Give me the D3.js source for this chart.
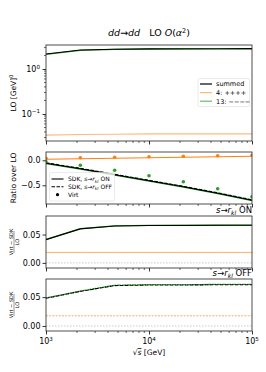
<!DOCTYPE html>
<html>
<head>
<meta charset="utf-8">
<script src="https://cdn.jsdelivr.net/npm/d3@7"></script>
<style>
  body { margin: 0; background: #fff; }
  text { font-family: "DejaVu Sans", sans-serif; fill: #000; }
</style>
</head>
<body>
<script>
// sqrt(s) sampling points [GeV]
var energies = [1000, 2154, 4642, 10000, 21544, 46416, 100000];

// top panel: LO
var loSummed = [2.15, 2.64, 2.76, 2.80, 2.82, 2.83, 2.84];
var loHel4 = [0.034, 0.035, 0.0355, 0.036, 0.036, 0.036, 0.036];
var loHel13 = [2.12, 2.61, 2.72, 2.76, 2.78, 2.79, 2.80];

// ratio over LO
var sdkOnSummed = [-0.06, -0.17, -0.29, -0.41, -0.53, -0.66, -0.80];
var sdkOffSummed = [-0.05, -0.16, -0.28, -0.40, -0.52, -0.65, -0.79];
var sdkOn13 = [-0.065, -0.175, -0.295, -0.415, -0.535, -0.665, -0.805];
var sdkOn4 = [0.02, 0.03, 0.04, 0.05, 0.06, 0.07, 0.08];
var virt13 = [-0.03, -0.10, -0.20, -0.31, -0.43, -0.57, -0.73];
var virt4 = [0.04, 0.05, 0.06, 0.07, 0.08, 0.09, 0.10];

// (Virt - SDK) / LO
var diffOnSummed = [0.041, 0.060, 0.065, 0.066, 0.066, 0.0665, 0.0665];
var diffOn13 = [0.0415, 0.0605, 0.0652, 0.0662, 0.0663, 0.0665, 0.0666];
var diffOn4 = [0.0185, 0.0185, 0.0185, 0.0185, 0.0185, 0.0185, 0.0185];
var diffOffSummed = [0.048, 0.060, 0.070, 0.071, 0.071, 0.0715, 0.0715];
var diffOff13 = [0.0485, 0.0605, 0.0705, 0.0715, 0.0715, 0.072, 0.072];
var diffOff4 = [0.0177, 0.0177, 0.0177, 0.0177, 0.0177, 0.0177, 0.0177];

var xTicks = [1e3, 1e4, 1e5];
var xTickExp = ["3", "4", "5"];

var width = 266, height = 372,
	left = 46, right = 252,
	panels = [
		{top: 45, bottom: 141},
		{top: 152, bottom: 204},
		{top: 216, bottom: 268},
		{top: 279, bottom: 331}
	],
	black = "#000", orange = "#ff7f0e", green = "#2ca02c", tickFont = 8;

var svg = d3.select("body").append("svg")
	.attr("width", width)
	.attr("height", height);

var x = d3.scaleLog().domain([1e3, 1e5]).range([left, right]);

var yScales = [
	d3.scaleLog().domain([0.0251, 3.42]).range([panels[0].bottom, panels[0].top]),
	d3.scaleLinear().domain([-0.874, 0.166]).range([panels[1].bottom, panels[1].top]),
	d3.scaleLinear().domain([-0.009, 0.0827]).range([panels[2].bottom, panels[2].top]),
	d3.scaleLinear().domain([-0.0087, 0.0814]).range([panels[3].bottom, panels[3].top])
];

function translate(a, b) {
	return "translate(" + a + "," + b + ")";
}

function drawLine(i, values, color, width, dash, opacity) {
	var y = yScales[i];
	var line = d3.line()
		.x(function (d, k) { return x(energies[k]); })
		.y(function (d) { return y(d); });
	var p = svg.append("path")
		.datum(values)
		.attr("clip-path", "url(#clip" + i + ")")
		.attr("fill", "none")
		.attr("stroke", color)
		.attr("stroke-width", width)
		.attr("opacity", opacity || 1)
		.attr("d", line);
	if (dash) p.attr("stroke-dasharray", dash);
	return p;
}

function drawDots(i, values, color) {
	svg.append("g")
		.attr("clip-path", "url(#clip" + i + ")")
		.selectAll("circle")
		.data(values)
		.enter()
		.append("circle")
		.attr("cx", function (d, k) { return x(energies[k]); })
		.attr("cy", function (d) { return yScales[i](d); })
		.attr("r", 1.8)
		.attr("fill", color);
}

// clip paths
var defs = svg.append("defs");
panels.forEach(function (p, i) {
	defs.append("clipPath").attr("id", "clip" + i)
		.append("rect")
		.attr("x", left).attr("y", p.top)
		.attr("width", right - left).attr("height", p.bottom - p.top);
});

// x axes for every panel (labels only on the last)
panels.forEach(function (p, i) {
	var ax = d3.axisBottom(x)
		.tickValues(xTicks)
		.tickSize(3.5)
		.tickFormat("");
	var g = svg.append("g").attr("transform", translate(0, p.bottom)).call(ax);
	var minor = [];
	[1e3, 1e4].forEach(function (dec) {
		for (var m = 2; m < 10; m++) minor.push(dec * m);
	});
	g.selectAll("line.minor")
		.data(minor)
		.enter()
		.append("line")
		.attr("x1", function (d) { return x(d); })
		.attr("x2", function (d) { return x(d); })
		.attr("y1", 0).attr("y2", 2)
		.attr("stroke", black).attr("stroke-width", 0.6);
	g.select(".domain").remove();
	g.selectAll(".tick line").attr("stroke-width", 0.8);
});

// x tick labels 10^n
var xl = svg.append("g").selectAll("text")
	.data(xTicks)
	.enter()
	.append("text")
	.attr("x", function (d) { return x(d); })
	.attr("y", 344)
	.attr("text-anchor", "middle")
	.attr("font-size", tickFont);
xl.append("tspan").text("10");
xl.append("tspan").attr("dy", -3.5).attr("font-size", 5.6)
	.text(function (d, i) { return xTickExp[i]; });

svg.append("text")
	.attr("x", (left + right) / 2).attr("y", 355)
	.attr("text-anchor", "middle").attr("font-size", 7.5)
	.html("√<tspan text-decoration=\"overline\" font-style=\"italic\">s</tspan> [GeV]");

// panel 1 y axis (log)
var y0 = yScales[0];
var g0 = svg.append("g").attr("transform", translate(left, 0))
	.call(d3.axisLeft(y0).tickValues([0.1, 1]).tickSize(3.5).tickFormat(""));
g0.select(".domain").remove();
g0.selectAll(".tick line").attr("stroke-width", 0.8);
var minorY = [0.03, 0.04, 0.05, 0.06, 0.07, 0.08, 0.09, 0.2, 0.3, 0.4, 0.5, 0.6, 0.7, 0.8, 0.9, 2, 3];
g0.selectAll("line.minor")
	.data(minorY)
	.enter()
	.append("line")
	.attr("x1", 0).attr("x2", -2)
	.attr("y1", function (d) { return y0(d); })
	.attr("y2", function (d) { return y0(d); })
	.attr("stroke", black).attr("stroke-width", 0.6);
var yl0 = svg.append("g").selectAll("text")
	.data([[1, "0"], [0.1, "−1"]])
	.enter()
	.append("text")
	.attr("x", left - 6)
	.attr("y", function (d) { return y0(d[0]) + 3; })
	.attr("text-anchor", "end")
	.attr("font-size", tickFont);
yl0.append("tspan").text("10");
yl0.append("tspan").attr("dy", -3.5).attr("font-size", 5.6).text(function (d) { return d[1]; });

// linear y axes
var linTicks = [
	null,
	{values: [-0.5, 0.0], fmt: d3.format(".1f")},
	{values: [0.0, 0.05], fmt: d3.format(".2f")},
	{values: [0.0, 0.05], fmt: d3.format(".2f")}
];
[1, 2, 3].forEach(function (i) {
	var ax = d3.axisLeft(yScales[i])
		.tickValues(linTicks[i].values)
		.tickSize(3.5)
		.tickPadding(2)
		.tickFormat(function (d) { return linTicks[i].fmt(d).replace("-", "−"); });
	var g = svg.append("g").attr("transform", translate(left, 0)).call(ax);
	g.select(".domain").remove();
	g.selectAll(".tick line").attr("stroke-width", 0.8);
	g.selectAll(".tick text").attr("font-size", tickFont)
		.attr("font-family", "DejaVu Sans");
});

// zero reference lines
[2, 3].forEach(function (i) {
	svg.append("line")
		.attr("x1", left).attr("x2", right)
		.attr("y1", yScales[i](0)).attr("y2", yScales[i](0))
		.attr("stroke", "#aaa").attr("stroke-width", 0.6)
		.attr("stroke-dasharray", "1.5,1.5");
});

// panel 1 curves
drawLine(0, loHel4, orange, 1.2, null, 0.55);
drawLine(0, loHel13, green, 1.2);
drawLine(0, loSummed, black, 1.1);

// panel 2 curves
drawLine(1, sdkOn4, orange, 1.1);
drawLine(1, sdkOn13, green, 1.6);
drawLine(1, sdkOnSummed, black, 1.1);
drawLine(1, sdkOffSummed, black, 1.1, "3.5,1.5");
drawDots(1, virt4, orange);
drawDots(1, virt13, green);

// panel 3 curves
drawLine(2, diffOn4, orange, 0.8, null, 0.8);
drawLine(2, diffOn13, green, 1.4);
drawLine(2, diffOnSummed, black, 1.1);

// panel 4 curves
drawLine(3, diffOff4, orange, 0.8, "2,1.2", 0.8);
drawLine(3, diffOff13, green, 1.3, "3.5,1.5").attr("stroke-dashoffset", 2.5);
drawLine(3, diffOffSummed, black, 1.1, "3.5,1.5");

// frames
panels.forEach(function (p) {
	svg.append("rect")
		.attr("x", left).attr("y", p.top)
		.attr("width", right - left).attr("height", p.bottom - p.top)
		.attr("fill", "none").attr("stroke", "#222").attr("stroke-width", 0.8);
});

// title
svg.append("text")
	.attr("x", (left + right) / 2).attr("y", 36)
	.attr("text-anchor", "middle").attr("font-size", 9.5)
	.html("<tspan font-style=\"italic\">dd</tspan>→<tspan font-style=\"italic\">dd</tspan>" +
		"\u00a0\u00a0 LO <tspan font-style=\"italic\">O</tspan>(<tspan font-style=\"italic\">α</tspan>" +
		"<tspan dy=\"-3.5\" font-size=\"6.5\">2</tspan><tspan dy=\"3.5\">)</tspan>");

// y labels
svg.append("text")
	.attr("transform", translate(16, (panels[0].top + panels[0].bottom) / 2) + " rotate(-90)")
	.attr("text-anchor", "middle").attr("font-size", 7.5)
	.html("LO [GeV]<tspan dy=\"-3\" font-size=\"5.3\">0</tspan>");
svg.append("text")
	.attr("transform", translate(16, (panels[1].top + panels[1].bottom) / 2) + " rotate(-90)")
	.attr("text-anchor", "middle").attr("font-size", 7.5)
	.text("Ratio over LO");
[2, 3].forEach(function (i) {
	var g = svg.append("g")
		.attr("transform", translate(14, (panels[i].top + panels[i].bottom) / 2) + " rotate(-90)");
	g.append("text").attr("y", -1.5).attr("text-anchor", "middle").attr("font-size", 5)
		.text("Virt − SDK");
	g.append("line").attr("x1", -11).attr("x2", 11).attr("y1", 0).attr("y2", 0)
		.attr("stroke", black).attr("stroke-width", 0.4);
	g.append("text").attr("y", 4.5).attr("text-anchor", "middle").attr("font-size", 5)
		.text("LO");
});

// panel captions
[[2, "ON"], [3, "OFF"]].forEach(function (c) {
	svg.append("text")
		.attr("x", right).attr("y", panels[c[0]].top - 3)
		.attr("text-anchor", "end").attr("font-size", 8.5)
		.html("<tspan font-style=\"italic\">s</tspan>→<tspan font-style=\"italic\">r</tspan>" +
			"<tspan dy=\"1.8\" font-size=\"6\" font-style=\"italic\">kl</tspan>" +
			"<tspan dy=\"-1.8\"> " + c[1] + "</tspan>");
});

// legend panel 1
var leg1 = svg.append("g").attr("transform", translate(198, 78.5));
leg1.append("rect").attr("width", 51.5).attr("height", 28).attr("rx", 1.5)
	.attr("fill", "#fff").attr("fill-opacity", 0.8).attr("stroke", "#ddd").attr("stroke-width", 0.6);
[["summed", black, 1], ["4: ++++", orange, 0.55], ["13: −−−−", green, 0.7]].forEach(function (e, i) {
	var yy = 5.5 + i * 8.6;
	leg1.append("line").attr("x1", 2).attr("x2", 14).attr("y1", yy).attr("y2", yy)
		.attr("stroke", e[1]).attr("stroke-width", 1.2).attr("opacity", e[2]);
	leg1.append("text").attr("x", 18).attr("y", yy + 2.4).attr("font-size", 6.5).text(e[0]);
});

// legend panel 2
var leg2 = svg.append("g").attr("transform", translate(49.5, 172.5));
leg2.append("rect").attr("width", 65).attr("height", 28.5).attr("rx", 1.5)
	.attr("fill", "#fff").attr("fill-opacity", 0.8).attr("stroke", "#ddd").attr("stroke-width", 0.6);
var lbl2 = ["ON", "OFF"];
lbl2.forEach(function (s, i) {
	var yy = 6.5 + i * 7.8;
	leg2.append("line").attr("x1", 2).attr("x2", 14).attr("y1", yy).attr("y2", yy)
		.attr("stroke", black).attr("stroke-width", 1.1)
		.attr("stroke-dasharray", i ? "3.5,1.5" : null);
	leg2.append("text").attr("x", 18.5).attr("y", yy + 2.3).attr("font-size", 6)
		.html("SDK, <tspan font-style=\"italic\">s</tspan>→<tspan font-style=\"italic\">r</tspan>" +
			"<tspan dy=\"1.3\" font-size=\"4.3\" font-style=\"italic\">kl</tspan><tspan dy=\"-1.3\"> " + s + "</tspan>");
});
leg2.append("circle").attr("cx", 8).attr("cy", 22.2).attr("r", 1.6).attr("fill", black);
leg2.append("text").attr("x", 18.5).attr("y", 24.5).attr("font-size", 6).text("Virt");
</script>
</body>
</html>
